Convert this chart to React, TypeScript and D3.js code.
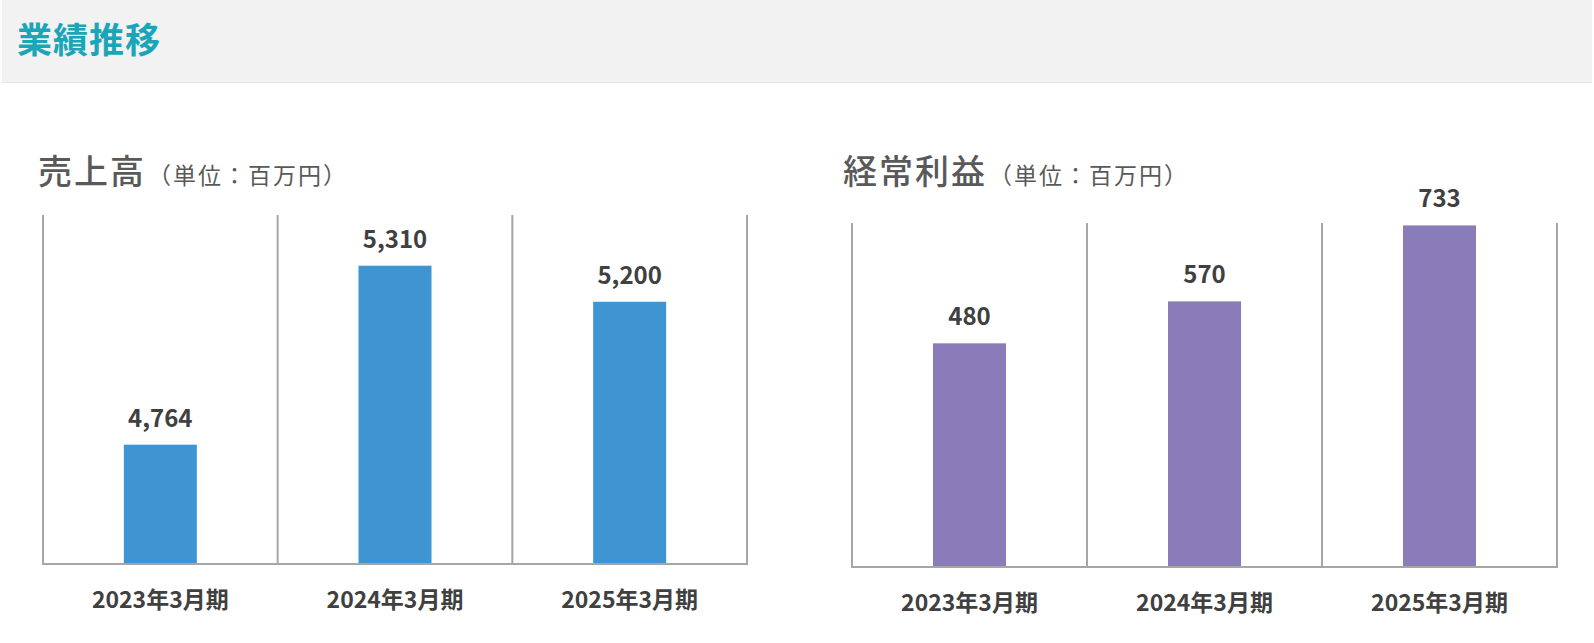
import * as d3 from "d3";

const periods = ["2023年3月期", "2024年3月期", "2025年3月期"];
const salesValues = [4764, 5310, 5200];
const profitValues = [480, 570, 733];
const salesDomain = [4400, 5500];
const profitDomain = [0, 800];

const W = 1594;
const H = 643;
const FONT = "'Noto Sans CJK JP', 'Noto Sans', sans-serif";
const LINE = "#a6a6a6";
const TEXT = "#404040";

type PanelProps = {
  title: string;
  values: number[];
  domain: number[];
  color: string;
  x0: number;
  x1: number;
  base: number;
  top: number;
  lineTop: number;
  titleX: number;
};

function Panel({ title, values, domain, color, x0, x1, base, top, lineTop, titleX }: PanelProps) {
  const x = d3.scaleBand<string>().domain(periods).range([x0, x1]).paddingInner(0).paddingOuter(0);
  const y = d3.scaleLinear().domain(domain).range([base, top]);
  const bw = 73;
  const bounds = [...periods.map((p) => x(p)!), x1];

  return (
    <g>
      {/* title */}
      <text x={titleX} y={184} fontFamily={FONT} fill="#595959">
        <tspan fontSize={34} letterSpacing={2} fontWeight={500}>{title}</tspan>
        <tspan fontSize={23} letterSpacing={2} dx={2}>（単位：百万円）</tspan>
      </text>

      {/* vertical separators */}
      {bounds.map((bx, i) => (
        <line key={i} x1={bx} x2={bx} y1={lineTop} y2={base} stroke={LINE} strokeWidth={2} />
      ))}
      <line x1={x0 - 1} x2={x1 + 1} y1={base} y2={base} stroke={LINE} strokeWidth={2} />

      {/* bars */}
      {values.map((v, i) => {
        const cx = x(periods[i])! + x.bandwidth() / 2;
        return (
          <g key={i}>
            <rect x={cx - bw / 2} y={y(v)} width={bw} height={base - 1 - y(v)} fill={color} />
            <text
              x={cx}
              y={y(v) - 18}
              textAnchor="middle"
              fontFamily={FONT}
              fontWeight="bold"
              fontSize={24}
              fill={TEXT}
            >
              {d3.format(",")(v)}
            </text>
            <text
              x={cx}
              y={base + 44}
              textAnchor="middle"
              fontFamily={FONT}
              fontWeight="bold"
              fontSize={23}
              fill={TEXT}
            >
              {periods[i]}
            </text>
          </g>
        );
      })}
    </g>
  );
}

export default function App() {
  return (
    <svg
      width={W}
      height={H}
      style={{ position: "absolute", left: 0, top: 0, background: "#fff" }}
    >
      {/* header band */}
      <rect x={2} y={0} width={1590} height={82} fill="#f2f2f2" />
      <line x1={2} x2={1592} y1={82.5} y2={82.5} stroke="#e6e6e6" strokeWidth={1} />
      <text
        x={17}
        y={53}
        fontFamily={FONT}
        fontWeight="bold"
        fontSize={35}
        letterSpacing={1}
        fill="#1aa5b8"
      >
        業績推移
      </text>

      <Panel
        title="売上高"
        values={salesValues}
        domain={salesDomain}
        color="#3e95d2"
        x0={43}
        x1={747}
        base={564}
        top={564 - 1100 * 0.3278}
        lineTop={215}
        titleX={38}
      />
      <Panel
        title="経常利益"
        values={profitValues}
        domain={profitDomain}
        color="#8a7cb9"
        x0={852}
        x1={1557}
        base={567}
        top={567 - 800 * 0.466}
        lineTop={223}
        titleX={843}
      />
    </svg>
  );
}
